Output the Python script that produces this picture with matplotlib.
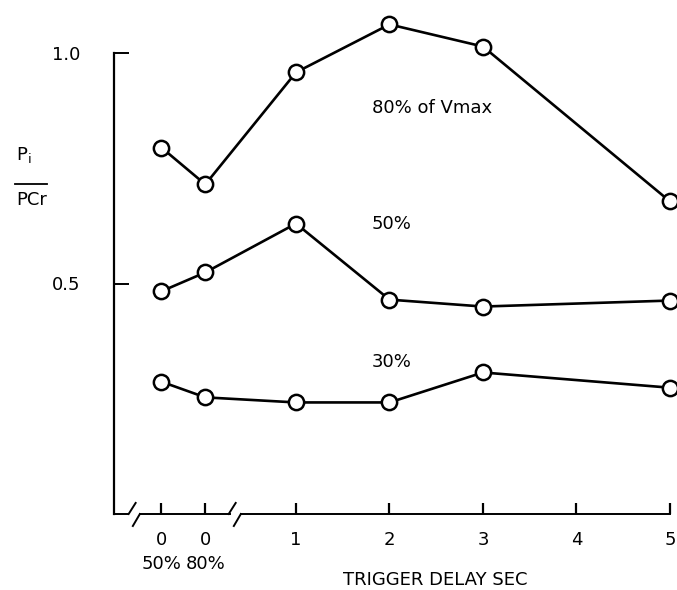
import matplotlib
matplotlib.use("Agg")
import matplotlib.pyplot as plt
from matplotlib.lines import Line2D

plt.rcParams['font.family'] = ['DejaVu Sans']

# ---- data ----
tick_labels = ["0\n50%", "0\n80%", "1", "2", "3", "4", "5"]
tick_pos = [-0.44, 0.03, 1, 2, 3, 4, 5]
point_pos = [-0.44, 0.03, 1, 2, 3, 5]          # trigger delay categories with data
series_80 = [0.795, 0.715, 0.958, 1.062, 1.014, 0.678]
series_50 = [0.483, 0.524, 0.630, 0.465, 0.450, 0.463]
series_30 = [0.287, 0.253, 0.242, 0.242, 0.307, 0.274]
series_labels = ["80% of Vmax", "50%", "30%"]
label_xy = [(1.81, 0.88), (1.81, 0.628), (1.81, 0.329)]
yticks = [0.5, 1.0]
ytick_labels = ["0.5", "1.0"]

W, H = 677, 590
fig = plt.figure(figsize=(W / 100, H / 100), dpi=100)
ax = fig.add_axes([114 / W, (H - 514) / H, 556 / W, 1.1 * 461 / H])
ax.set_xlim(-0.9465, 5.0)
ax.set_ylim(0, 1.1)

for s in ax.spines.values():
    s.set_visible(False)
ax.spines['left'].set_visible(True)
ax.spines['left'].set_bounds(0, 1.0)
ax.spines['left'].set_linewidth(1.6)

for ys in (series_80, series_50, series_30):
    ax.plot(point_pos, ys, color='black', lw=1.9, marker='o', ms=11,
            mfc='white', mec='black', mew=1.8, clip_on=False, zorder=3)

for txt, (x, y) in zip(series_labels, label_xy):
    ax.text(x, y, txt, fontsize=13, va='center', ha='left')

# x axis with breaks
lw = 1.4
ax.plot([-0.9465, -0.80], [0, 0], color='black', lw=lw, clip_on=False)
ax.plot([-0.79, -0.715], [0, 0.024], color='black', lw=lw, clip_on=False)
ax.plot([-0.745, -0.67], [-0.026, 0], color='black', lw=lw, clip_on=False)
ax.plot([-0.67, 0.29], [0, 0], color='black', lw=lw, clip_on=False)
ax.plot([0.28, 0.355], [0, 0.024], color='black', lw=lw, clip_on=False)
ax.plot([0.335, 0.41], [-0.026, 0], color='black', lw=lw, clip_on=False)
ax.plot([0.41, 5.0], [0, 0], color='black', lw=lw, clip_on=False)

ax.set_xticks(tick_pos)
ax.set_xticklabels(tick_labels, fontsize=13, linespacing=1.45)
ax.tick_params(axis='x', direction='in', length=8, width=1.6, pad=12)
ax.set_yticks(yticks)
ax.set_yticklabels(ytick_labels, fontsize=13)
ax.tick_params(axis='y', direction='in', length=11, width=1.4, pad=24)

# x label
fig.text(435 / W, 1 - 580 / H, "TRIGGER DELAY SEC", fontsize=13,
         ha='center', va='center')

# y label as fraction
fig.text(16 / W, 1 - 155 / H, r"P$_{\mathregular{i}}$", fontsize=13,
         ha='left', va='center')
fig.add_artist(Line2D([15 / W, 47 / W], [1 - 184 / H, 1 - 184 / H],
                      color='black', lw=1.3, transform=fig.transFigure))
fig.text(32 / W, 1 - 200 / H, "PCr", fontsize=13, ha='center', va='center')

fig.savefig("out.png", dpi=100)
